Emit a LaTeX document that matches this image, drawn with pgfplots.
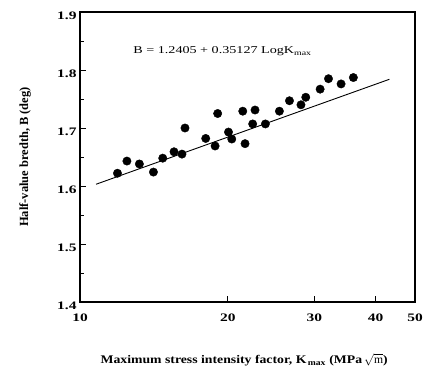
\documentclass[border=0pt]{standalone}
\usepackage{pgfplots}
\pgfplotsset{compat=1.18}
\usepackage{fontspec}
\setmainfont{Liberation Serif}
\newfontfamily\wideserif[FakeStretch=1.35]{Liberation Serif}
\newfontfamily\labserif[FakeStretch=1.18]{Liberation Serif}
\begin{document}
\begin{tikzpicture}[x=1bp,y=1bp]
\useasboundingbox (0,0) rectangle (433,366);
\begin{axis}[
  at={(80bp,64bp)}, anchor=south west,
  scale only axis, width=335bp, height=290bp,
  xmode=log, xmin=10, xmax=48.1,
  ymin=1.4, ymax=1.9,
  xtick={10,20,30,40,48.1}, xticklabels={10,20,30,40,50},
  minor xtick={},
  ytick={1.4,1.5,1.6,1.7,1.8,1.9},
  yticklabels={1.4,1.5,1.6,1.7,1.8,1.9},
  minor ytick={1.45,1.55,1.65,1.75,1.85},
  xtick pos=bottom, ytick pos=left,
  tick align=inside,
  major tick length=6bp, minor tick length=3.5bp,
  axis line style={line width=1.2bp},
  tick style={line width=1bp, black},
  ticklabel style={font=\wideserif\bfseries\fontsize{11.5}{13}\selectfont},
  yticklabel style={yshift=-4bp},
  xticklabel style={yshift=-8bp},
  xlabel={Maximum stress intensity factor, K\textsubscript{\,max} (MPa\,$\sqrt{\mathrm{m}}$)},
  xlabel style={at={(axis description cs:0.49,-0.2)}, anchor=center,
    font=\labserif\bfseries\fontsize{11.7}{13}\selectfont},
  ylabel={Half-value bredth, B (deg)},
  ylabel style={at={(axis description cs:-0.164,0.5)}, anchor=center,
    font=\bfseries\fontsize{12.5}{13}\selectfont},
  clip=false,
]
\addplot[only marks, mark=*, mark size=4.2bp, black] coordinates {
(11.92,1.622) (12.46,1.643) (13.21,1.638) (14.11,1.624) (14.74,1.648)
(15.54,1.659) (16.13,1.655) (16.36,1.700) (18.03,1.682) (18.84,1.669)
(19.07,1.725) (20.06,1.693) (20.37,1.681) (21.45,1.729) (21.68,1.673)
(22.47,1.707) (22.72,1.731) (23.85,1.707) (25.47,1.729) (26.70,1.747)
(28.18,1.740) (28.82,1.753) (30.83,1.767) (32.06,1.785) (34.01,1.776)
(36.03,1.787)
};
\addplot[black, line width=0.9bp] coordinates {(10.78,1.603) (42.66,1.784)};
\node[anchor=west, font=\wideserif\fontsize{10.5}{12}\selectfont]
  at (axis description cs:0.149,0.865) {B = 1.2405 + 0.35127 LogK\textsubscript{max}};
\end{axis}
\end{tikzpicture}
\end{document}
